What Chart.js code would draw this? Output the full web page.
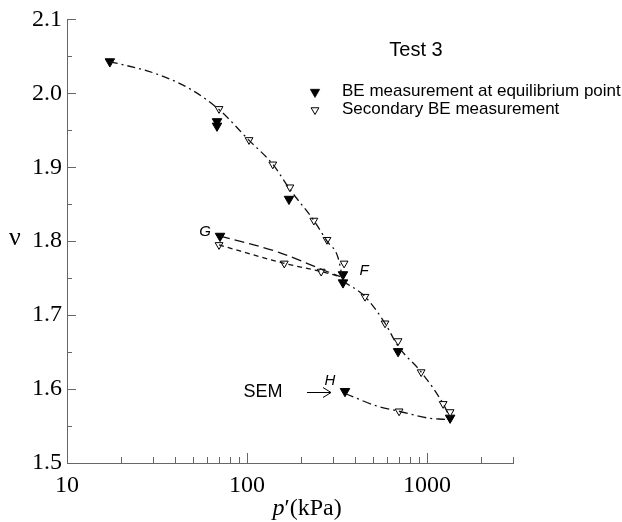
<!DOCTYPE html>
<html lang="en">
<head>
    <meta charset="UTF-8">
    <script src="https://cdn.jsdelivr.net/npm/chart.js"></script>
    <title>Test 3</title>
    <style>
        body { margin: 0; background: #fff; }
        #wrap { width: 622px; height: 522px; }
    </style>
</head>
<body>
    <div id="wrap">
        <canvas id="chartTest3" width="622" height="522"></canvas>
    </div>

    <script>
        // BE measurement at equilibrium point (filled)
        var pressureFilled = [17.3, 68.1, 68.1, 171, 341, 341, 690, 1342, 70.8, 350];
        var voidFilled = [2.043, 1.962, 1.956, 1.857, 1.755, 1.744, 1.651, 1.561, 1.807, 1.597];

        // Secondary BE measurement (open)
        var pressureOpen = [69.9, 102.6, 139, 173, 235, 278, 346, 452, 584, 690, 927, 1228, 1342, 69.9, 161, 258, 699];
        var voidOpen = [1.979, 1.937, 1.904, 1.873, 1.828, 1.802, 1.770, 1.725, 1.689, 1.665, 1.623, 1.580, 1.569, 1.795, 1.770, 1.759, 1.570];

        // curves
        var loadP = [17.3, 30.8, 48.2, 69.9, 103, 139, 173, 235, 278, 320, 341];
        var loadV = [2.043, 2.027, 2.006, 1.978, 1.936, 1.904, 1.870, 1.828, 1.800, 1.778, 1.746];
        var unloadP = [341, 452, 584, 690, 927, 1228, 1342];
        var unloadV = [1.746, 1.725, 1.689, 1.658, 1.623, 1.580, 1.561];
        var gUpperP = [70.8, 150, 259, 330];
        var gUpperV = [1.807, 1.785, 1.762, 1.752];
        var gLowerP = [69.9, 161, 258, 330];
        var gLowerV = [1.795, 1.770, 1.759, 1.752];
        var hP = [350, 527, 699, 1000, 1259];
        var hV = [1.594, 1.577, 1.570, 1.561, 1.559];

        var xLabels = [10, 100, 1000];
        var yLabels = [1.5, 1.6, 1.7, 1.8, 1.9, 2.0, 2.1];

        function pts(px, py) {
            return px.map(function(p, i) { return { x: p, y: py[i] }; });
        }

        function curve(px, py, dash) {
            return {
                type: 'line',
                data: pts(px, py),
                borderColor: '#111',
                borderWidth: 1.3,
                borderDash: dash,
                pointRadius: 0,
                cubicInterpolationMode: 'monotone',
                fill: false
            };
        }

        var annotations = {
            id: 'annotations',
            afterDraw: function(chart) {
                var ctx = chart.ctx;
                var xs = chart.scales.x, ys = chart.scales.y;
                var left = chart.chartArea.left, bottom = chart.chartArea.bottom;
                ctx.save();
                ctx.strokeStyle = '#666';
                ctx.lineWidth = 1;
                ctx.beginPath();
                // inward ticks on y
                for (var k = 0; k <= 12; k++) {
                    var v = 1.5 + k * 0.05;
                    var yy = Math.round(ys.getPixelForValue(v)) + 0.5;
                    ctx.moveTo(left, yy);
                    ctx.lineTo(left + (k % 2 === 0 ? 9 : 5), yy);
                }
                // inward ticks on x
                [10, 100, 1000].forEach(function(d) {
                    for (var m = 1; m <= 9; m++) {
                        var val = d * m;
                        if (val > 3000) break;
                        var xx = Math.round(xs.getPixelForValue(val)) + 0.5;
                        ctx.moveTo(xx, bottom);
                        ctx.lineTo(xx, bottom - (m === 1 ? 10 : 6));
                    }
                });
                ctx.stroke();

                // y title
                ctx.fillStyle = '#000';
                ctx.font = '26px "Liberation Serif"';
                ctx.textAlign = 'center';
                ctx.textBaseline = 'middle';
                ctx.fillText('ν', 15, 238);

                // x title
                ctx.textAlign = 'left';
                ctx.font = 'italic 24px "Liberation Serif"';
                var w1 = ctx.measureText('p').width;
                ctx.font = '24px "Liberation Serif"';
                var w2 = ctx.measureText('′(kPa)').width;
                var x0 = 307 - (w1 + w2) / 2;
                ctx.font = 'italic 24px "Liberation Serif"';
                ctx.fillText('p', x0, 509);
                ctx.font = '24px "Liberation Serif"';
                ctx.fillText('′(kPa)', x0 + w1, 509);

                // header and legend
                ctx.font = '20px "Liberation Sans"';
                ctx.textAlign = 'center';
                ctx.fillText('Test 3', 416, 50);
                ctx.textAlign = 'left';
                ctx.font = '17px "Liberation Sans"';
                ctx.fillText('BE measurement at equilibrium point', 342, 91);
                ctx.fillText('Secondary BE measurement', 342, 109);
                Chart.helpers.drawPoint(ctx, { pointStyle: 'triangle', rotation: 180, radius: 5.5, borderWidth: 1 }, 315, 92);
                ctx.fillStyle = '#000';
                ctx.strokeStyle = '#000';
                ctx.fill();
                ctx.fillStyle = '#fff';
                ctx.lineWidth = 1;
                Chart.helpers.drawPoint(ctx, { pointStyle: 'triangle', rotation: 180, radius: 4.5, borderWidth: 1 }, 315, 110);

                // point labels
                ctx.fillStyle = '#000';
                ctx.font = 'italic 15px "Liberation Sans"';
                ctx.textAlign = 'center';
                ctx.fillText('G', 205, 232);
                ctx.fillText('F', 364, 271);
                ctx.fillText('H', 330, 381);
                ctx.font = '18px "Liberation Sans"';
                ctx.fillText('SEM', 263, 392);

                // arrow to H
                ctx.strokeStyle = '#000';
                ctx.lineWidth = 1;
                ctx.beginPath();
                ctx.moveTo(307, 392.5);
                ctx.lineTo(331, 392.5);
                ctx.moveTo(323, 387.5);
                ctx.lineTo(331, 392.5);
                ctx.lineTo(323, 397.5);
                ctx.stroke();
                ctx.restore();
            }
        };

        var ctxTest3 = document.getElementById('chartTest3').getContext('2d');
        var chartTest3 = new Chart(ctxTest3, {
            type: 'scatter',
            data: {
                datasets: [
                    curve(loadP, loadV, [8, 4, 2, 4]),
                    curve(unloadP, unloadV, [8, 4, 2, 4]),
                    curve(gUpperP, gUpperV, [10, 5]),
                    curve(gLowerP, gLowerV, [5, 4]),
                    curve(hP, hV, [9, 4, 2, 4]),
                    {
                        label: 'Secondary BE measurement',
                        data: pts(pressureOpen, voidOpen),
                        pointStyle: 'triangle',
                        rotation: 180,
                        pointRadius: 4.5,
                        backgroundColor: '#fff',
                        borderColor: '#000',
                        borderWidth: 1
                    },
                    {
                        label: 'BE measurement at equilibrium point',
                        data: pts(pressureFilled, voidFilled),
                        pointStyle: 'triangle',
                        rotation: 180,
                        pointRadius: 5.5,
                        backgroundColor: '#000',
                        borderColor: '#000',
                        borderWidth: 1
                    }
                ]
            },
            options: {
                responsive: false,
                animation: false,
                layout: { padding: { top: 18, right: 109, left: 0, bottom: 0 } },
                plugins: {
                    legend: { display: false },
                    tooltip: { enabled: false }
                },
                scales: {
                    x: {
                        type: 'logarithmic',
                        min: 10,
                        max: 3000,
                        afterBuildTicks: function(scale) {
                            scale.ticks = xLabels.map(function(v) { return { value: v }; });
                        },
                        afterFit: function(scale) { scale.height = 59; },
                        ticks: {
                            callback: function(v) { return String(v); },
                            color: '#000',
                            font: { family: 'Liberation Serif', size: 24 },
                            padding: 8,
                            maxRotation: 0,
                            autoSkip: false
                        },
                        grid: { display: false, drawTicks: false },
                        border: { display: true, color: '#666', width: 1 }
                    },
                    y: {
                        min: 1.5,
                        max: 2.1,
                        afterBuildTicks: function(scale) {
                            scale.ticks = yLabels.map(function(v) { return { value: v }; });
                        },
                        afterFit: function(scale) { scale.width = 67; },
                        ticks: {
                            callback: function(v) { return Number(v).toFixed(1); },
                            color: '#000',
                            font: { family: 'Liberation Serif', size: 24 },
                            padding: 5
                        },
                        grid: { display: false, drawTicks: false },
                        border: { display: true, color: '#666', width: 1 }
                    }
                }
            },
            plugins: [annotations]
        });
    </script>
</body>
</html>
